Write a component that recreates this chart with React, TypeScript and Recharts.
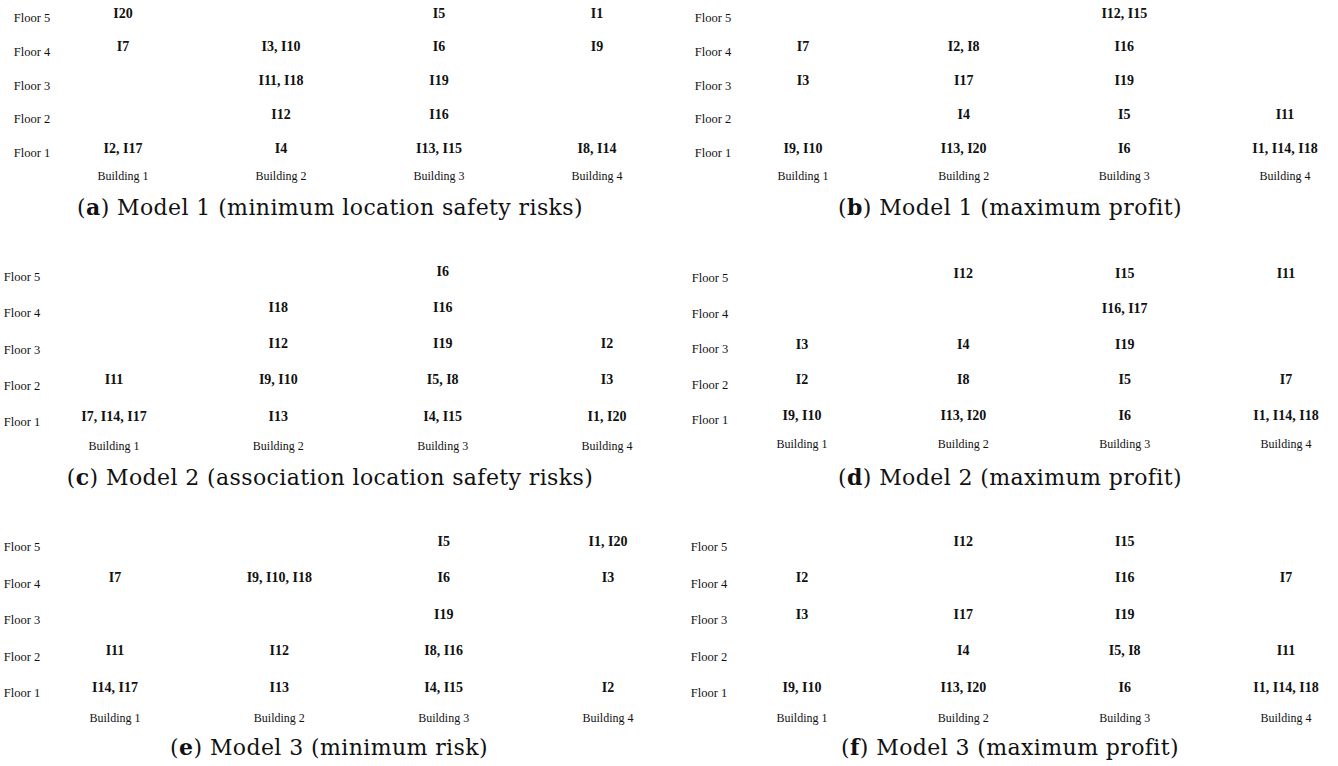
import { ScatterChart, Scatter, XAxis, YAxis } from 'recharts';

const buildings = ['Building 1', 'Building 2', 'Building 3', 'Building 4'];
const floors = ['Floor 1', 'Floor 2', 'Floor 3', 'Floor 4', 'Floor 5'];

// building no., floor no., items stored there
const model1MinRisk = [
  { building: 1, floor: 5, items: 'I20' },
  { building: 3, floor: 5, items: 'I5' },
  { building: 4, floor: 5, items: 'I1' },
  { building: 1, floor: 4, items: 'I7' },
  { building: 2, floor: 4, items: 'I3, I10' },
  { building: 3, floor: 4, items: 'I6' },
  { building: 4, floor: 4, items: 'I9' },
  { building: 2, floor: 3, items: 'I11, I18' },
  { building: 3, floor: 3, items: 'I19' },
  { building: 2, floor: 2, items: 'I12' },
  { building: 3, floor: 2, items: 'I16' },
  { building: 1, floor: 1, items: 'I2, I17' },
  { building: 2, floor: 1, items: 'I4' },
  { building: 3, floor: 1, items: 'I13, I15' },
  { building: 4, floor: 1, items: 'I8, I14' },
];

const model1MaxProfit = [
  { building: 3, floor: 5, items: 'I12, I15' },
  { building: 1, floor: 4, items: 'I7' },
  { building: 2, floor: 4, items: 'I2, I8' },
  { building: 3, floor: 4, items: 'I16' },
  { building: 1, floor: 3, items: 'I3' },
  { building: 2, floor: 3, items: 'I17' },
  { building: 3, floor: 3, items: 'I19' },
  { building: 2, floor: 2, items: 'I4' },
  { building: 3, floor: 2, items: 'I5' },
  { building: 4, floor: 2, items: 'I11' },
  { building: 1, floor: 1, items: 'I9, I10' },
  { building: 2, floor: 1, items: 'I13, I20' },
  { building: 3, floor: 1, items: 'I6' },
  { building: 4, floor: 1, items: 'I1, I14, I18' },
];

const model2Association = [
  { building: 3, floor: 5, items: 'I6' },
  { building: 2, floor: 4, items: 'I18' },
  { building: 3, floor: 4, items: 'I16' },
  { building: 2, floor: 3, items: 'I12' },
  { building: 3, floor: 3, items: 'I19' },
  { building: 4, floor: 3, items: 'I2' },
  { building: 1, floor: 2, items: 'I11' },
  { building: 2, floor: 2, items: 'I9, I10' },
  { building: 3, floor: 2, items: 'I5, I8' },
  { building: 4, floor: 2, items: 'I3' },
  { building: 1, floor: 1, items: 'I7, I14, I17' },
  { building: 2, floor: 1, items: 'I13' },
  { building: 3, floor: 1, items: 'I4, I15' },
  { building: 4, floor: 1, items: 'I1, I20' },
];

const model2MaxProfit = [
  { building: 2, floor: 5, items: 'I12' },
  { building: 3, floor: 5, items: 'I15' },
  { building: 4, floor: 5, items: 'I11' },
  { building: 3, floor: 4, items: 'I16, I17' },
  { building: 1, floor: 3, items: 'I3' },
  { building: 2, floor: 3, items: 'I4' },
  { building: 3, floor: 3, items: 'I19' },
  { building: 1, floor: 2, items: 'I2' },
  { building: 2, floor: 2, items: 'I8' },
  { building: 3, floor: 2, items: 'I5' },
  { building: 4, floor: 2, items: 'I7' },
  { building: 1, floor: 1, items: 'I9, I10' },
  { building: 2, floor: 1, items: 'I13, I20' },
  { building: 3, floor: 1, items: 'I6' },
  { building: 4, floor: 1, items: 'I1, I14, I18' },
];

const model3MinRisk = [
  { building: 3, floor: 5, items: 'I5' },
  { building: 4, floor: 5, items: 'I1, I20' },
  { building: 1, floor: 4, items: 'I7' },
  { building: 2, floor: 4, items: 'I9, I10, I18' },
  { building: 3, floor: 4, items: 'I6' },
  { building: 4, floor: 4, items: 'I3' },
  { building: 3, floor: 3, items: 'I19' },
  { building: 1, floor: 2, items: 'I11' },
  { building: 2, floor: 2, items: 'I12' },
  { building: 3, floor: 2, items: 'I8, I16' },
  { building: 1, floor: 1, items: 'I14, I17' },
  { building: 2, floor: 1, items: 'I13' },
  { building: 3, floor: 1, items: 'I4, I15' },
  { building: 4, floor: 1, items: 'I2' },
];

const model3MaxProfit = [
  { building: 2, floor: 5, items: 'I12' },
  { building: 3, floor: 5, items: 'I15' },
  { building: 1, floor: 4, items: 'I2' },
  { building: 3, floor: 4, items: 'I16' },
  { building: 4, floor: 4, items: 'I7' },
  { building: 1, floor: 3, items: 'I3' },
  { building: 2, floor: 3, items: 'I17' },
  { building: 3, floor: 3, items: 'I19' },
  { building: 2, floor: 2, items: 'I4' },
  { building: 3, floor: 2, items: 'I5, I8' },
  { building: 4, floor: 2, items: 'I11' },
  { building: 1, floor: 1, items: 'I9, I10' },
  { building: 2, floor: 1, items: 'I13, I20' },
  { building: 3, floor: 1, items: 'I6' },
  { building: 4, floor: 1, items: 'I1, I14, I18' },
];

const captionLetters = ['a', 'b', 'c', 'd', 'e', 'f'];
const captionTexts = [
  'Model 1 (minimum location safety risks)',
  'Model 1 (maximum profit)',
  'Model 2 (association location safety risks)',
  'Model 2 (maximum profit)',
  'Model 3 (minimum risk)',
  'Model 3 (maximum profit)',
];
const panelData = [model1MinRisk, model1MaxProfit, model2Association, model2MaxProfit, model3MinRisk, model3MaxProfit];

// page positions of each panel: chart box, plot corners, label offsets
const layouts = [
  { left: 0, top: 0, width: 668, height: 190, x0: 123, x1: 597, y0: 18, y1: 153, floorX: 32, buildingY: 176, itemDy: -5, capX: 330, capY: 207 },
  { left: 668, top: 0, width: 670, height: 190, x0: 803, x1: 1285, y0: 18, y1: 153, floorX: 713, buildingY: 176, itemDy: -5, capX: 1010, capY: 207 },
  { left: 0, top: 250, width: 668, height: 205, x0: 114, x1: 607, y0: 277, y1: 422, floorX: 22, buildingY: 446, itemDy: -6, capX: 330, capY: 477 },
  { left: 668, top: 250, width: 670, height: 205, x0: 802, x1: 1286, y0: 278, y1: 420, floorX: 710, buildingY: 444, itemDy: -5, capX: 1010, capY: 477 },
  { left: 0, top: 510, width: 668, height: 220, x0: 115, x1: 608, y0: 547, y1: 693, floorX: 22, buildingY: 718, itemDy: -6, capX: 329, capY: 747 },
  { left: 668, top: 510, width: 670, height: 220, x0: 802, x1: 1286, y0: 547, y1: 693, floorX: 709, buildingY: 718, itemDy: -6, capX: 1010, capY: 747 },
];

const serif = '"Liberation Serif", "Times New Roman", serif';

const Panel = ({ data, layout, letter, caption }: any) => {
  const { left, top, width, height, x0, x1, y0, y1, floorX, buildingY, itemDy, capX, capY } = layout;

  const buildingTick = (p: any) => (
    <text x={p.x} y={p.y + (buildingY - y1)} textAnchor="middle" dominantBaseline="central" fontFamily={serif} fontSize={12} fill="#111">
      {buildings[p.payload.value - 1]}
    </text>
  );

  const floorTick = (p: any) => (
    <text x={p.x - (x0 - floorX)} y={p.y} textAnchor="middle" dominantBaseline="central" fontFamily={serif} fontSize={12.5} fill="#111">
      {floors[p.payload.value - 1]}
    </text>
  );

  const itemLabel = (p: any) => (
    <text x={p.cx} y={p.cy + itemDy} textAnchor="middle" dominantBaseline="central" fontFamily={serif} fontWeight="bold" fontSize={14} fill="#111">
      {p.payload?.items ?? p.items}
    </text>
  );

  return (
    <>
      <div style={{ position: 'absolute', left, top, width, height }}>
        <ScatterChart
          width={width}
          height={height}
          margin={{ top: y0 - top, right: left + width - x1, bottom: 0, left: 0 }}
        >
          <XAxis
            type="number"
            dataKey="building"
            domain={[1, 4]}
            ticks={[1, 2, 3, 4]}
            interval={0}
            axisLine={false}
            tickLine={false}
            tickSize={0}
            tickMargin={0}
            height={top + height - y1}
            tick={buildingTick}
          />
          <YAxis
            type="number"
            dataKey="floor"
            domain={[1, 5]}
            ticks={[1, 2, 3, 4, 5]}
            interval={0}
            axisLine={false}
            tickLine={false}
            tickSize={0}
            tickMargin={0}
            width={x0 - left}
            tick={floorTick}
          />
          <Scatter data={data} isAnimationActive={false} shape={itemLabel} />
        </ScatterChart>
      </div>
      <div
        style={{
          position: 'absolute',
          left: capX,
          top: capY,
          transform: 'translate(-50%, -50%)',
          whiteSpace: 'nowrap',
          fontFamily: '"DejaVu Serif", serif',
          fontSize: 22,
          letterSpacing: 0.4,
          color: '#111',
          lineHeight: 1,
        }}
      >
        (<b>{letter}</b>) {caption}
      </div>
    </>
  );
};

export default function App() {
  return (
    <div style={{ position: 'absolute', left: 0, top: 0, width: 1338, height: 766, background: '#fff', overflow: 'hidden' }}>
      {panelData.map((d, i) => (
        <Panel key={i} data={d} layout={layouts[i]} letter={captionLetters[i]} caption={captionTexts[i]} />
      ))}
    </div>
  );
}
